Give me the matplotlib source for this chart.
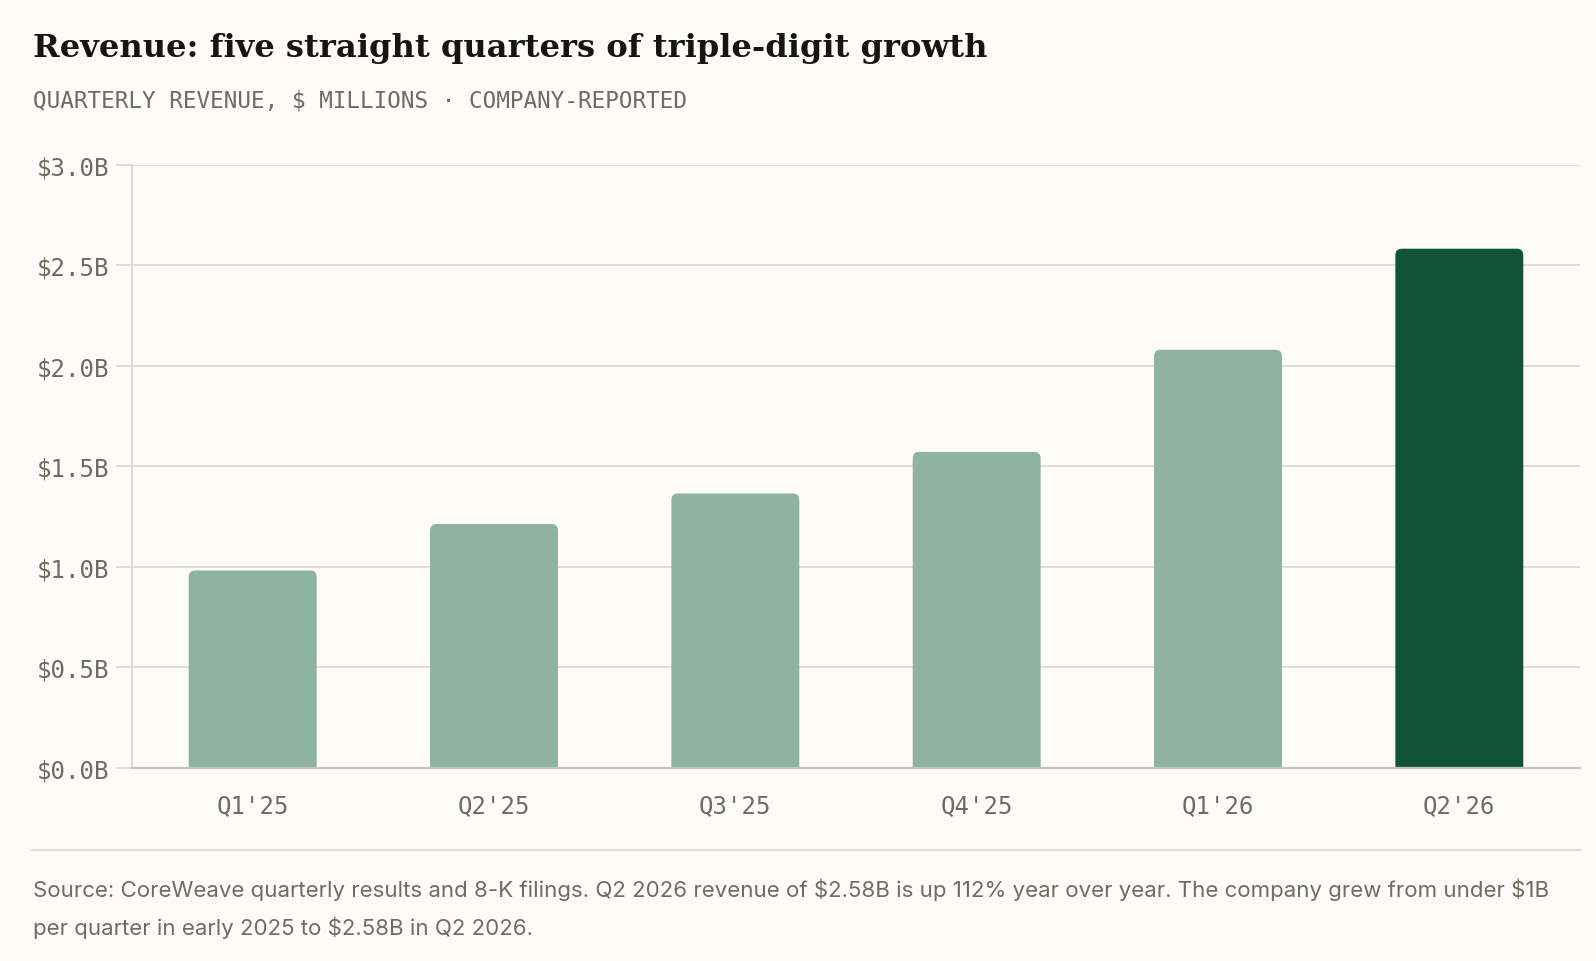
import matplotlib
matplotlib.use("Agg")
import matplotlib.pyplot as plt
from matplotlib.path import Path
from matplotlib.patches import PathPatch
from matplotlib.lines import Line2D

plt.rcParams["text.parse_math"] = False

# ---- data ----
quarters = ["Q1'25", "Q2'25", "Q3'25", "Q4'25", "Q1'26", "Q2'26"]
revenue_musd = [982, 1213, 1365, 1572, 2080, 2583]
highlight = [False, False, False, False, False, True]
y_ticks = [0, 500, 1000, 1500, 2000, 2500, 3000]
y_tick_labels = ["$0.0B", "$0.5B", "$1.0B", "$1.5B", "$2.0B", "$2.5B", "$3.0B"]

title = "Revenue: five straight quarters of triple-digit growth"
subtitle = "QUARTERLY REVENUE, $ MILLIONS \u00b7 COMPANY-REPORTED"
footer = ["Source: CoreWeave quarterly results and 8-K filings. Q2 2026 revenue of $2.58B is up 112% year over year. The company grew from under $1B",
          "per quarter in early 2025 to $2.58B in Q2 2026."]

# ---- style ----
BG = "#fdfcf8"
LIGHT = "#8fb3a3"
DARK = "#11523b"
GRID = "#e1ddd4"
BASE = "#c6c4ba"
TXT = "#6f6c61"
TITLE_C = "#16160f"

W, H = 1596, 962
fig = plt.figure(figsize=(W / 100, H / 100), dpi=100, facecolor=BG)

ax_l, ax_r, ax_b, ax_t = 132, 1580, 768.8, 165.9
ax = fig.add_axes([ax_l / W, 1 - ax_b / H, (ax_r - ax_l) / W, (ax_b - ax_t) / H])
ax.set_facecolor(BG)

x = list(range(len(quarters)))
bar_w = 0.53
bars = ax.bar(x, revenue_musd, width=bar_w, color="none", edgecolor="none")
ax.set_xlim(-0.5, len(quarters) - 0.5)
ax.set_ylim(0, 3000)

# rounded top corners
r_px = 6.5
ax_w_px = ax_r - ax_l
ax_h_px = ax_b - ax_t
rx = r_px * (len(quarters)) / ax_w_px
ry = r_px * 3000 / ax_h_px
for rect, hl in zip(bars, highlight):
    x0 = rect.get_x()
    x1 = x0 + rect.get_width()
    h = rect.get_height()
    verts = [(x0, 0), (x0, h - ry), (x0, h), (x0 + rx, h), (x1 - rx, h),
             (x1, h), (x1, h - ry), (x1, 0), (x0, 0)]
    codes = [Path.MOVETO, Path.LINETO, Path.CURVE3, Path.CURVE3, Path.LINETO,
             Path.CURVE3, Path.CURVE3, Path.LINETO, Path.CLOSEPOLY]
    ax.add_patch(PathPatch(Path(verts, codes), facecolor=DARK if hl else LIGHT,
                           edgecolor="none", zorder=3))

ax.set_yticks(y_ticks)
ax.set_yticklabels(y_tick_labels)
ax.set_xticks(x)
ax.set_xticklabels(quarters)
ax.yaxis.grid(True, color=GRID, linewidth=1.4, zorder=0)
ax.set_axisbelow(True)
ax.tick_params(axis="y", length=11.5, width=1.4, color=GRID, pad=5,
               labelsize=17.3, labelcolor=TXT)
ax.tick_params(axis="x", length=0, pad=18, labelsize=17.3, labelcolor=TXT)
for lab in ax.get_xticklabels() + ax.get_yticklabels():
    lab.set_fontfamily("DejaVu Sans Mono")

for s in ["top", "right"]:
    ax.spines[s].set_visible(False)
ax.spines["left"].set_color(GRID)
ax.spines["left"].set_linewidth(1.4)
ax.spines["bottom"].set_color(BASE)
ax.spines["bottom"].set_linewidth(1.6)
ax.spines["bottom"].set_zorder(4)

# ---- texts ----
fig.text(33 / W, 1 - 57 / H, title, fontfamily="DejaVu Serif", fontweight="bold",
         fontsize=23.1, color=TITLE_C, ha="left", va="baseline")
fig.text(33 / W, 1 - 101 / H, subtitle, fontfamily="DejaVu Sans Mono", fontsize=16.3,
         color=TXT, ha="left", va="center")

fig.add_artist(Line2D([32 / W, 1580 / W], [1 - 851 / H, 1 - 851 / H],
                      transform=fig.transFigure, color=GRID, linewidth=1.5))

for i, line in enumerate(footer):
    fig.text(33 / W, 1 - (890 + 38 * i) / H, line, fontfamily="Inter", fontsize=16,
             color=TXT, ha="left", va="center")

fig.savefig("out.png", dpi=100, facecolor=BG)
